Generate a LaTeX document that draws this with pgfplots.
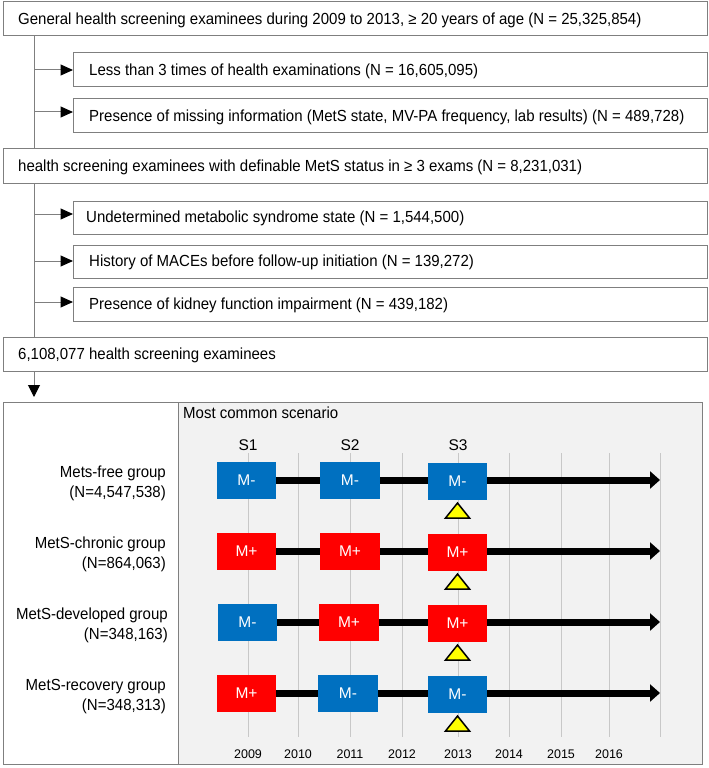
\documentclass[border=0pt]{standalone}
\usepackage{pgfplots}
\pgfplotsset{compat=1.18}
\usepackage{fontspec}
\setmainfont{Liberation Sans}
\usetikzlibrary{arrows.meta}
\definecolor{mblue}{HTML}{0070C0}
\definecolor{mred}{HTML}{FF0000}
\definecolor{panel}{HTML}{F2F2F2}
\definecolor{gridc}{HTML}{C8C8C8}
\definecolor{frame}{HTML}{7F7F7F}
\definecolor{tri}{HTML}{FFFF00}
\newcommand{\ft}{\fontsize{15bp}{17bp}\selectfont}
\newcommand{\fm}{\fontsize{15.5bp}{17bp}\selectfont}
\newcommand{\fy}{\fontsize{12.5bp}{14bp}\selectfont}
\newcommand{\T}[1]{\scalebox{1}[1.07]{#1}}
\tikzset{
  txt/.style={anchor=base west, font=\ft, inner sep=0pt},
  grp/.style={anchor=base east, font=\ft, inner sep=0pt},
}
\begin{document}
\begin{tikzpicture}
\begin{axis}[
  at={(0,0)}, anchor=south west,
  width=709bp, height=768bp, scale only axis,
  xmin=0, xmax=709, ymin=0, ymax=768, y dir=reverse,
  hide axis, clip=false,
  fb/.style={draw=frame, line width=1bp, mark=none},
  con/.style={frame, line width=1bp, mark=none, -{Triangle[length=12.5bp,width=11bp,color=black]}},
  tl/.style={black, line width=7bp, mark=none, -{Triangle[length=10bp,width=17bp]}},
  gl/.style={gridc, line width=0.8bp, mark=none},
  bx/.style={draw=none, mark=none},
  tr/.style={fill=tri, draw=black, line width=1.5bp, mark=none},
]
% ---------------- flow chart boxes ----------------
\addplot[fb] coordinates {(3,2) (707,2) (707,36) (3,36)} -- cycle;
\addplot[fb] coordinates {(73,53) (707,53) (707,87) (73,87)} -- cycle;
\addplot[fb] coordinates {(73,99) (707,99) (707,133) (73,133)} -- cycle;
\addplot[fb] coordinates {(3,149) (707,149) (707,183) (3,183)} -- cycle;
\addplot[fb] coordinates {(73,201) (707,201) (707,234) (73,234)} -- cycle;
\addplot[fb] coordinates {(73,245) (707,245) (707,278) (73,278)} -- cycle;
\addplot[fb] coordinates {(73,287) (707,287) (707,321) (73,321)} -- cycle;
\addplot[fb] coordinates {(3,337) (707,337) (707,371) (3,371)} -- cycle;
% connectors
\addplot[fb] coordinates {(34,36) (34,149)};
\addplot[fb] coordinates {(34,183) (34,337)};
\addplot[con] coordinates {(34,70) (73,70)};
\addplot[con] coordinates {(34,112) (73,112)};
\addplot[con] coordinates {(34,214) (73,214)};
\addplot[con] coordinates {(34,261) (73,261)};
\addplot[con] coordinates {(34,302) (73,302)};
\addplot[frame, line width=1bp, mark=none, -{Triangle[length=12bp,width=12bp,color=black]}] coordinates {(34,371) (34,397)};
% texts
\node[txt] at (axis cs:18,24.5) {\T{General health screening examinees during 2009 to 2013, ≥ 20 years of age (N = 25,325,854)}};
\node[txt] at (axis cs:89,75.5) {\T{Less than 3 times of health examinations (N = 16,605,095)}};
\node[txt] at (axis cs:89,121.5) {\T{Presence of missing information (MetS state, MV-PA frequency, lab results) (N = 489,728)}};
\node[txt] at (axis cs:18,171.5) {\T{health screening examinees with definable MetS status in ≥ 3 exams (N = 8,231,031)}};
\node[txt] at (axis cs:86,222.5) {\T{Undetermined metabolic syndrome state (N = 1,544,500)}};
\node[txt] at (axis cs:89,266.5) {\T{History of MACEs before follow-up initiation (N = 139,272)}};
\node[txt] at (axis cs:89,309.5) {\T{Presence of kidney function impairment (N = 439,182)}};
\node[txt] at (axis cs:18,359.5) {\T{6,108,077 health screening examinees}};
% ---------------- scenario panel ----------------
\addplot[fill=panel, draw=none, mark=none] coordinates {(178,402) (702,402) (702,764) (178,764)} -- cycle;
\addplot[fb] coordinates {(3,402) (702,402) (702,764) (3,764)} -- cycle;
\addplot[fb] coordinates {(178,402) (178,764)};
% grid lines (years)
\addplot[gl] coordinates {(248,453) (248,737)};
\addplot[gl] coordinates {(298,453) (298,737)};
\addplot[gl] coordinates {(350,453) (350,737)};
\addplot[gl] coordinates {(402,453) (402,737)};
\addplot[gl] coordinates {(458,453) (458,737)};
\addplot[gl] coordinates {(509,453) (509,737)};
\addplot[gl] coordinates {(561,453) (561,737)};
\addplot[gl] coordinates {(609,453) (609,737)};
\addplot[gl] coordinates {(660,453) (660,737)};
% timelines
\addplot[tl] coordinates {(270,480) (660,480)};
\addplot[tl] coordinates {(270,551) (660,551)};
\addplot[tl] coordinates {(270,622) (660,622)};
\addplot[tl] coordinates {(270,693) (660,693)};
% row 1: M- M- M-
\addplot[bx, fill=mblue] coordinates {(217,461.5) (276,461.5) (276,498.5) (217,498.5)} -- cycle;
\addplot[bx, fill=mblue] coordinates {(320,461.5) (380,461.5) (380,498.5) (320,498.5)} -- cycle;
\addplot[bx, fill=mblue] coordinates {(428,462.5) (487,462.5) (487,499.5) (428,499.5)} -- cycle;
% row 2: M+ M+ M+
\addplot[bx, fill=mred] coordinates {(217,532.5) (276,532.5) (276,569.5) (217,569.5)} -- cycle;
\addplot[bx, fill=mred] coordinates {(320,532.5) (380,532.5) (380,569.5) (320,569.5)} -- cycle;
\addplot[bx, fill=mred] coordinates {(428,534) (487,534) (487,571) (428,571)} -- cycle;
% row 3: M- M+ M+
\addplot[bx, fill=mblue] coordinates {(218,603.5) (277,603.5) (277,640.5) (218,640.5)} -- cycle;
\addplot[bx, fill=mred] coordinates {(319,603.5) (379,603.5) (379,640.5) (319,640.5)} -- cycle;
\addplot[bx, fill=mred] coordinates {(428,605) (487,605) (487,642) (428,642)} -- cycle;
% row 4: M+ M- M-
\addplot[bx, fill=mred] coordinates {(217,674.5) (276,674.5) (276,711.5) (217,711.5)} -- cycle;
\addplot[bx, fill=mblue] coordinates {(318,674.5) (378,674.5) (378,711.5) (318,711.5)} -- cycle;
\addplot[bx, fill=mblue] coordinates {(428,675.5) (487,675.5) (487,712.5) (428,712.5)} -- cycle;
% triangles (S3 markers)
\addplot[tr] coordinates {(445.5,518) (457.5,503) (469.5,518)} -- cycle;
\addplot[tr] coordinates {(445.5,589) (457.5,574) (469.5,589)} -- cycle;
\addplot[tr] coordinates {(445.5,660) (457.5,645) (469.5,660)} -- cycle;
\addplot[tr] coordinates {(445.5,731) (457.5,716) (469.5,731)} -- cycle;
% box labels
\node[font=\fm, text=white] at (axis cs:246.5,480) {M-};
\node[font=\fm, text=white] at (axis cs:350,480) {M-};
\node[font=\fm, text=white] at (axis cs:457.5,481) {M-};
\node[font=\fm, text=white] at (axis cs:246.5,551) {M+};
\node[font=\fm, text=white] at (axis cs:350,551) {M+};
\node[font=\fm, text=white] at (axis cs:457.5,552.5) {M+};
\node[font=\fm, text=white] at (axis cs:247.5,622) {M-};
\node[font=\fm, text=white] at (axis cs:349,622) {M+};
\node[font=\fm, text=white] at (axis cs:457.5,623.5) {M+};
\node[font=\fm, text=white] at (axis cs:246.5,693) {M+};
\node[font=\fm, text=white] at (axis cs:348,693) {M-};
\node[font=\fm, text=white] at (axis cs:457.5,694) {M-};
% panel texts
\node[txt] at (axis cs:183,418.5) {\T{Most common scenario}};
\node[font=\fm] at (axis cs:248,445) {S1};
\node[font=\fm] at (axis cs:350,445) {S2};
\node[font=\fm] at (axis cs:458,445) {S3};
\node[grp] at (axis cs:166,477) {\T{Mets-free group}};
\node[grp] at (axis cs:166,497) {\T{(N=4,547,538)}};
\node[grp] at (axis cs:166,548) {\T{MetS-chronic group}};
\node[grp] at (axis cs:166,568) {\T{(N=864,063)}};
\node[grp] at (axis cs:168,619) {\T{MetS-developed group}};
\node[grp] at (axis cs:168,639) {\T{(N=348,163)}};
\node[grp] at (axis cs:166,690) {\T{MetS-recovery group}};
\node[grp] at (axis cs:166,710) {\T{(N=348,313)}};
\node[font=\fy] at (axis cs:248,754) {2009};
\node[font=\fy] at (axis cs:298,754) {2010};
\node[font=\fy] at (axis cs:350,754) {2011};
\node[font=\fy] at (axis cs:402,754) {2012};
\node[font=\fy] at (axis cs:458,754) {2013};
\node[font=\fy] at (axis cs:509,754) {2014};
\node[font=\fy] at (axis cs:561,754) {2015};
\node[font=\fy] at (axis cs:609,754) {2016};
\end{axis}
\pgfresetboundingbox
\useasboundingbox (0,0) rectangle (709bp,768bp);
\end{tikzpicture}
\end{document}
